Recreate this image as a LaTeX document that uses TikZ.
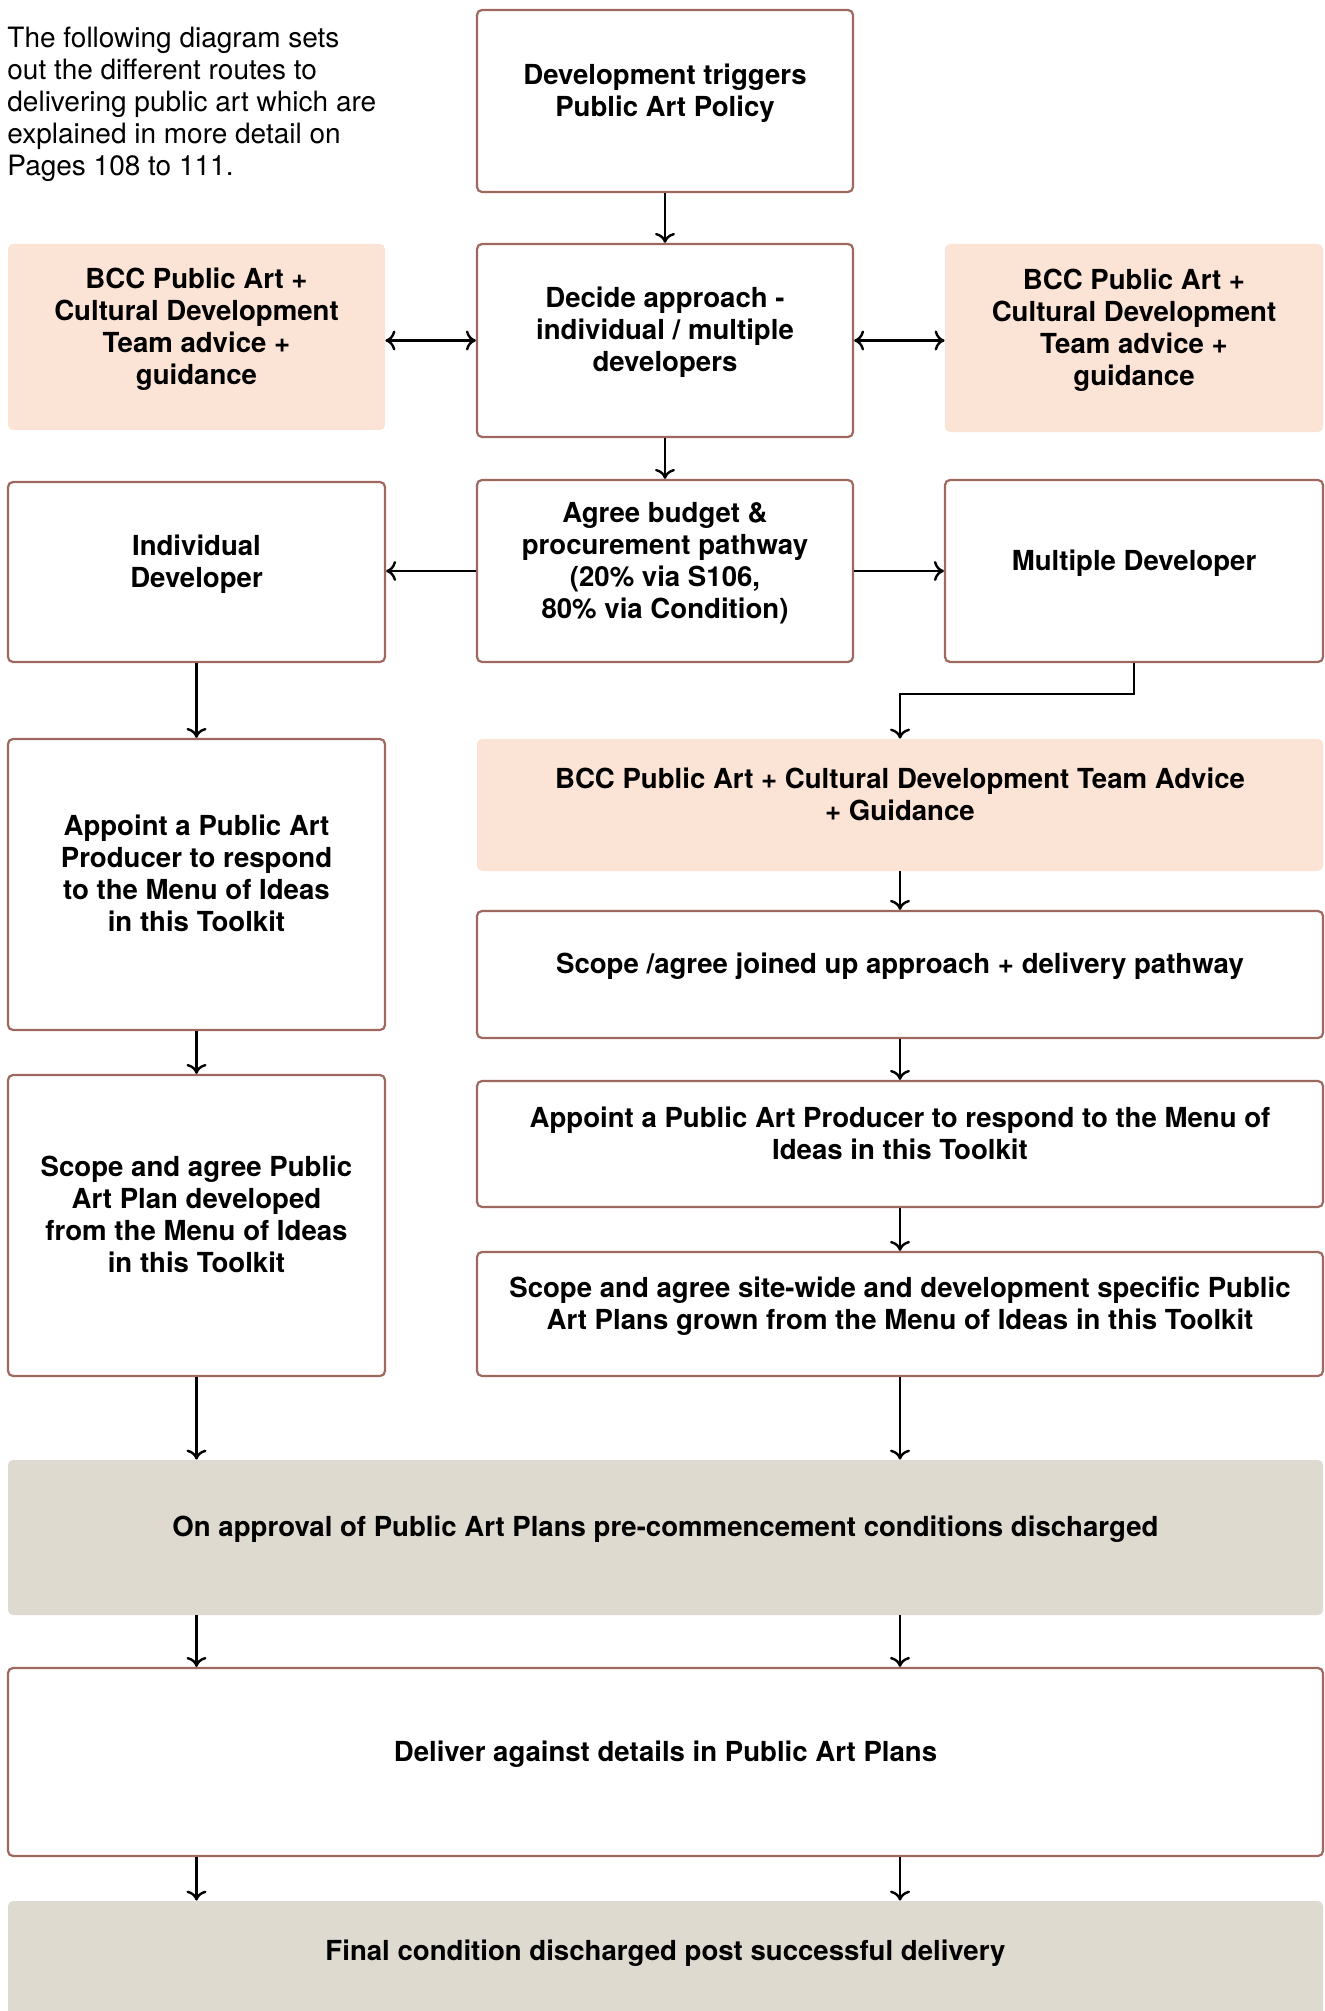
\documentclass[tikz,border=0pt]{standalone}
\usepackage{fontspec}
\setmainfont{TeX Gyre Heros}
\usetikzlibrary{arrows.meta}

\begin{document}
\begin{tikzpicture}[x=0.5pt,y=-0.5pt]
  \definecolor{kBrown}{RGB}{158,104,94}
  \definecolor{kPink}{RGB}{251,227,214}
  \definecolor{kStone}{RGB}{222,218,207}
  \tikzset{
    box/.style={rectangle,rounded corners=2.5pt,align=center,inner sep=0pt,
                font=\fontsize{13.8}{16}\selectfont\bfseries,text depth=11pt},
    plain/.style={box,draw=kBrown,line width=1.1pt,fill=white},
    advice/.style={box,fill=kPink},
    stage/.style={box,fill=kStone},
    flow/.style={-{To[length=5pt,width=10pt]},line width=1.2pt},
    twoway/.style={{To[length=5pt,width=10pt]}-{To[length=5pt,width=10pt]},line width=1.2pt}
  }

  \useasboundingbox (0,0) rectangle (1325,2011);

  % intro text
  \node[anchor=north west,inner sep=0pt,align=left,font=\fontsize{14}{16}\selectfont] (intro) at (7,27)
    {The following diagram sets\\out the different routes to\\delivering public art which are\\explained in more detail on\\Pages 108 to 111.};

  % top row
  \node[plain,minimum width=188pt,minimum height=91pt] (trigger) at (665,101)
    {Development triggers\\Public Art Policy};
  \node[advice,minimum width=188.5pt,minimum height=93pt] (adviceL) at (196.5,337)
    {BCC Public Art +\\Cultural Development\\Team advice +\\guidance};
  \node[plain,minimum width=188pt,minimum height=96.5pt] (decide) at (665,340.5)
    {Decide approach -\\individual / multiple\\developers};
  \node[advice,minimum width=189pt,minimum height=94pt] (adviceR) at (1134,338)
    {BCC Public Art +\\Cultural Development\\Team advice +\\guidance};

  % split
  \node[plain,minimum width=188.5pt,minimum height=90pt] (individual) at (196.5,572)
    {Individual\\Developer};
  \node[plain,minimum width=188pt,minimum height=91pt] (budget) at (665,571)
    {Agree budget \&\\procurement pathway\\(20\% via S106,\\80\% via Condition)};
  \node[plain,minimum width=189pt,minimum height=91pt] (multiple) at (1134,571)
    {Multiple Developer};

  %% individual route
  \node[plain,minimum width=188.5pt,minimum height=145.5pt] (producerL) at (196.5,884.5)
    {Appoint a Public Art\\Producer to respond\\to the Menu of Ideas\\in this Toolkit};
  \node[plain,minimum width=188.5pt,minimum height=150.5pt] (planL) at (196.5,1225.5)
    {Scope and agree Public\\Art Plan developed\\from the Menu of Ideas\\in this Toolkit};

  %% multiple route
  \node[advice,minimum width=423pt,minimum height=66pt] (adviceM) at (900,805)
    {BCC Public Art + Cultural Development Team Advice\\+ Guidance};
  \node[plain,minimum width=423pt,minimum height=63.5pt] (scopeR) at (900,974.5)
    {Scope /agree joined up approach + delivery pathway};
  \node[plain,minimum width=423pt,minimum height=63pt] (producerR) at (900,1144)
    {Appoint a Public Art Producer to respond to the Menu of\\Ideas in this Toolkit};
  \node[plain,minimum width=423pt,minimum height=62pt] (planR) at (900,1314)
    {Scope and agree site-wide and development specific Public\\Art Plans grown from the Menu of Ideas in this Toolkit};

  % bottom rows
  \node[stage,minimum width=657.5pt,minimum height=77.5pt] (approval) at (665.5,1537.5)
    {On approval of Public Art Plans pre-commencement conditions discharged};
  \node[plain,minimum width=657.5pt,minimum height=94pt] (deliver) at (665.5,1762)
    {Deliver against details in Public Art Plans};
  \node[stage,minimum width=657.5pt,minimum height=60pt] (final) at (665.5,1961)
    {Final condition discharged post successful delivery};

  % arrows
  \draw[flow] (trigger) -- (decide);
  \draw[twoway] (adviceL.east |- decide.west) -- (decide.west);
  \draw[twoway] (decide.east) -- (decide.east -| adviceR.west);
  \draw[flow] (decide) -- (budget);
  \draw[flow] (budget.west) -- (budget.west -| individual.east);
  \draw[flow] (budget.east) -- (budget.east -| multiple.west);
  \draw[flow] (individual) -- (producerL);
  \draw[flow] (producerL) -- (planL);
  \draw[flow] (multiple.south) -- ++(0,31) -| (adviceM.north);
  \foreach \a/\b in {adviceM/scopeR,scopeR/producerR,producerR/planR}
    \draw[flow] (\a) -- (\b);
  \draw[flow] (planL) -- (planL |- approval.north);
  \draw[flow] (planR) -- (planR |- approval.north);
  \foreach \src in {individual,adviceM}{
    \draw[flow] (approval.south -| \src) -- (deliver.north -| \src);
    \draw[flow] (deliver.south -| \src) -- (final.north -| \src);
  }
\end{tikzpicture}
\end{document}
